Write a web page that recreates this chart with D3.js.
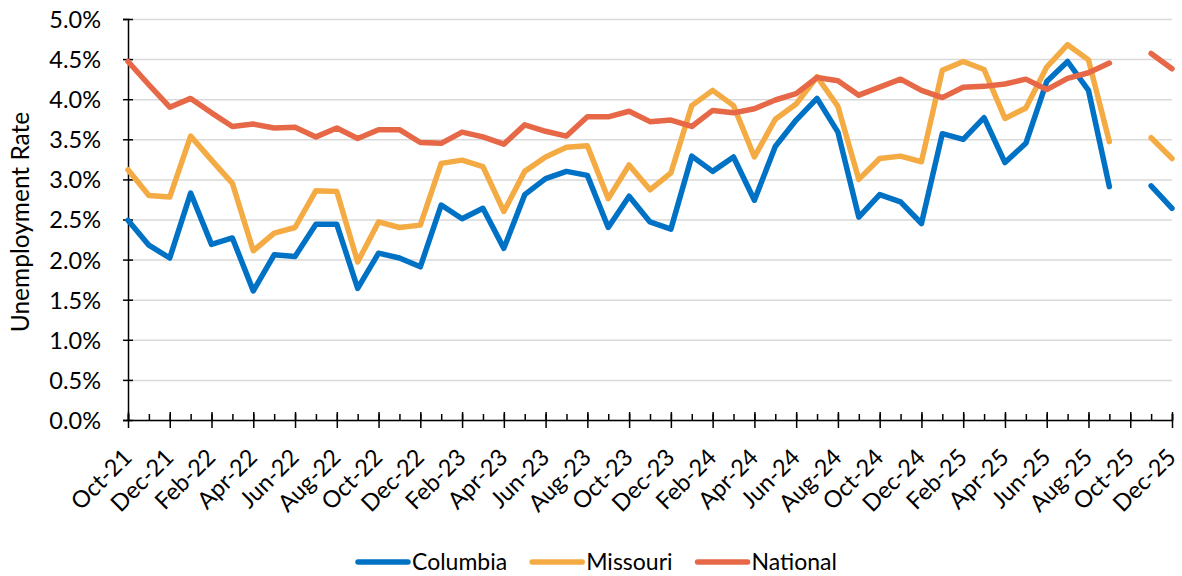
<!DOCTYPE html>
<html>
<head>
<meta charset="utf-8">
<script src="https://cdn.jsdelivr.net/npm/d3@7"></script>
<style>
  body { margin: 0; background: #fff; }
  text { font-family: Lato, "Noto Sans", sans-serif; fill: #000; }
</style>
</head>
<body>
<div id="chart"></div>
<script>
var months = ["Oct-21","Nov-21","Dec-21","Jan-22","Feb-22","Mar-22","Apr-22","May-22","Jun-22","Jul-22","Aug-22","Sep-22",
  "Oct-22","Nov-22","Dec-22","Jan-23","Feb-23","Mar-23","Apr-23","May-23","Jun-23","Jul-23","Aug-23","Sep-23",
  "Oct-23","Nov-23","Dec-23","Jan-24","Feb-24","Mar-24","Apr-24","May-24","Jun-24","Jul-24","Aug-24","Sep-24",
  "Oct-24","Nov-24","Dec-24","Jan-25","Feb-25","Mar-25","Apr-25","May-25","Jun-25","Jul-25","Aug-25","Sep-25",
  "Oct-25","Nov-25","Dec-25"];

// unemployment rate, percent (null = no data, Oct-25)
var columbia = [2.49,2.18,2.02,2.83,2.19,2.27,1.61,2.06,2.04,2.44,2.44,1.64,
  2.08,2.02,1.91,2.68,2.51,2.64,2.14,2.81,3.01,3.10,3.05,2.40,
  2.79,2.47,2.38,3.29,3.10,3.28,2.74,3.41,3.74,4.01,3.59,2.53,
  2.81,2.72,2.45,3.57,3.50,3.77,3.21,3.45,4.22,4.47,4.11,2.91,
  null,2.92,2.64];
var missouri = [3.12,2.80,2.78,3.54,3.24,2.95,2.11,2.33,2.40,2.86,2.85,1.97,
  2.47,2.40,2.43,3.20,3.24,3.16,2.60,3.10,3.28,3.40,3.42,2.76,
  3.18,2.87,3.08,3.92,4.11,3.92,3.28,3.75,3.94,4.28,3.91,3.00,
  3.26,3.29,3.22,4.36,4.47,4.37,3.76,3.89,4.40,4.68,4.49,3.47,
  null,3.52,3.26];
var national = [4.47,4.18,3.90,4.01,3.83,3.66,3.69,3.64,3.65,3.53,3.64,3.51,
  3.62,3.62,3.46,3.45,3.59,3.53,3.44,3.68,3.60,3.54,3.78,3.78,
  3.85,3.72,3.74,3.66,3.86,3.83,3.88,3.99,4.07,4.27,4.23,4.05,
  4.15,4.25,4.11,4.02,4.15,4.16,4.19,4.25,4.12,4.26,4.33,4.45,
  null,4.57,4.38];

var yTicks = [0,0.5,1,1.5,2,2.5,3,3.5,4,4.5,5];

var series = [
  { name: "Columbia", values: columbia, color: "#0072C6" },
  { name: "Missouri", values: missouri, color: "#F4AB43" },
  { name: "National", values: national, color: "#E66847" }
];

var svg = d3.select("#chart")
  .append("svg")
  .attr("width", 1182)
  .attr("height", 576);

var x = d3.scaleLinear().domain([0, months.length - 1]).range([128, 1172]);
var y = d3.scaleLinear().domain([0, 5]).range([420, 19]);

// gridlines
svg.append("g")
  .attr("transform", "translate(128,0)")
  .call(d3.axisLeft(y).tickValues(yTicks).tickSize(-1044).tickFormat(""))
  .call(function (g) {
    g.select(".domain").remove();
    g.selectAll("line").attr("stroke", "#d9d9d9").attr("stroke-width", 1.5);
  });

// y axis
svg.append("g")
  .attr("transform", "translate(128,0)")
  .call(d3.axisLeft(y).tickValues(yTicks).tickSize(5).tickPadding(22)
    .tickFormat(function (d) { return d.toFixed(1) + "%"; }))
  .call(function (g) {
    g.select(".domain").attr("stroke", "#000").attr("stroke-width", 1.5);
    g.selectAll("line").attr("stroke", "#000").attr("stroke-width", 1.5).attr("x2", 5).attr("x1", -5);
    g.selectAll("text").style("font-size", "23.5px").attr("dy", "0.36em");
  });

svg.append("text")
  .attr("transform", "translate(29,222) rotate(-90)")
  .attr("text-anchor", "middle")
  .style("font-size", "24.5px")
  .text("Unemployment Rate");

// x axis: minor ticks every month, major crossing ticks every 2 months
var idx = d3.range(months.length);
svg.append("g")
  .attr("transform", "translate(0,420)")
  .call(d3.axisBottom(x).tickValues(idx).tickSize(-6).tickFormat(""))
  .call(function (g) {
    g.select(".domain").attr("stroke", "#000").attr("stroke-width", 1.5);
    g.selectAll("line").attr("stroke", "#000").attr("stroke-width", 1.5);
  });

svg.append("g")
  .attr("transform", "translate(0,420)")
  .call(d3.axisBottom(x).tickValues(idx.filter(function (i) { return i % 2 == 0; }))
    .tickSize(8).tickFormat(function (i) { return months[i]; }))
  .call(function (g) {
    g.select(".domain").remove();
    g.selectAll("line").attr("stroke", "#000").attr("stroke-width", 1.5).attr("y1", -8);
    g.selectAll("text")
      .style("font-size", "23.5px")
      .attr("text-anchor", "end")
      .attr("y", 0)
      .attr("dy", "0.35em")
      .attr("transform", "translate(-1,33) rotate(-45)");
  });

// lines
var line = d3.line()
  .defined(function (d) { return d != null; })
  .x(function (d, i) { return x(i); })
  .y(function (d) { return y(d); });

series.forEach(function (s) {
  svg.append("path")
    .datum(s.values)
    .attr("fill", "none")
    .attr("stroke", s.color)
    .attr("stroke-width", 5.5)
    .attr("stroke-linejoin", "round")
    .attr("stroke-linecap", "round")
    .attr("d", line);
});

// legend
var legend = svg.append("g").attr("transform", "translate(0,562)");
var lx = 358;
series.forEach(function (s) {
  legend.append("line")
    .attr("x1", lx).attr("x2", lx + 50)
    .attr("y1", 0).attr("y2", 0)
    .attr("stroke", s.color)
    .attr("stroke-width", 5.5)
    .attr("stroke-linecap", "round");
  var t = legend.append("text")
    .attr("x", lx + 54)
    .attr("dy", "0.36em")
    .style("font-size", "23px")
    .text(s.name);
  lx += 54 + t.node().getComputedTextLength() + 25;
});
</script>
</body>
</html>
